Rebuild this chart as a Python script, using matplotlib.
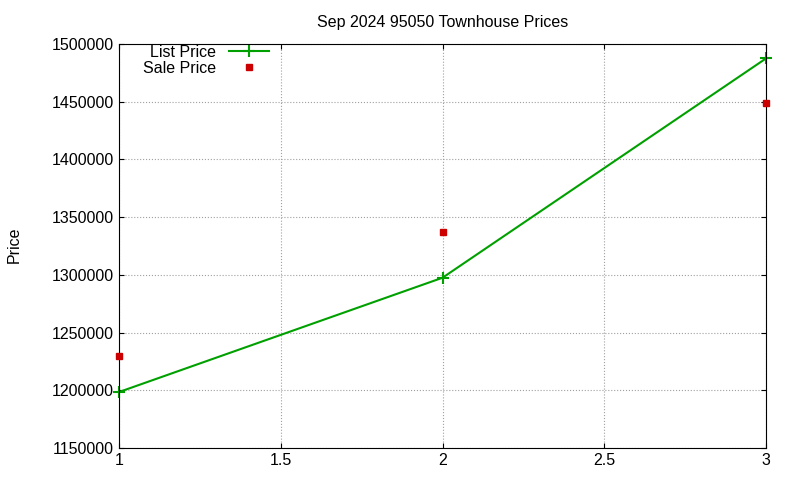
import matplotlib
matplotlib.use("Agg")
import matplotlib.pyplot as plt

plt.rcParams['font.family'] = ['Liberation Sans', 'DejaVu Sans']

x = [1, 2, 3]
list_price = [1198500, 1297500, 1487500]
sale_price = [1230000, 1337500, 1449000]

fig = plt.figure(figsize=(8, 4.8), dpi=100)
ax = fig.add_axes([119/800, 1-448/480, (766-119)/800, (448-44)/480])

ax.plot(x, list_price, '-+', color='#00a000', lw=1.5, ms=8, mew=1.5, label='List Price', clip_on=False)
ax.plot(x, sale_price, 's', color='#cc0000', ms=5, ls='none', label='Sale Price', clip_on=False, zorder=3)

ax.set_xlim(1, 3)
ax.set_ylim(1150000, 1500000)
ax.set_xticks([1, 1.5, 2, 2.5, 3])
ax.set_xticklabels(['1', '1.5', '2', '2.5', '3'])
ax.set_yticks(range(1150000, 1500001, 50000))
ax.ticklabel_format(axis='y', style='plain', useOffset=False)
ax.grid(True, color='#a0a0a0', ls=':', lw=0.8)
ax.tick_params(direction='in', labelsize=11.5, top=True, right=True)
for s in ax.spines.values():
    s.set_linewidth(0.8)
ax.set_title('Sep 2024 95050 Townhouse Prices', fontsize=11.5, pad=12)
fig.text(0.008, 0.49, 'Price', rotation=90, va='center', fontsize=11.5)
ax.legend(loc='upper left', frameon=False, markerfirst=False, fontsize=11.5,
          bbox_to_anchor=(0.02, 1.025), handlelength=2.5, borderpad=0.2, labelspacing=0.05)

fig.savefig('out.png', dpi=100)
